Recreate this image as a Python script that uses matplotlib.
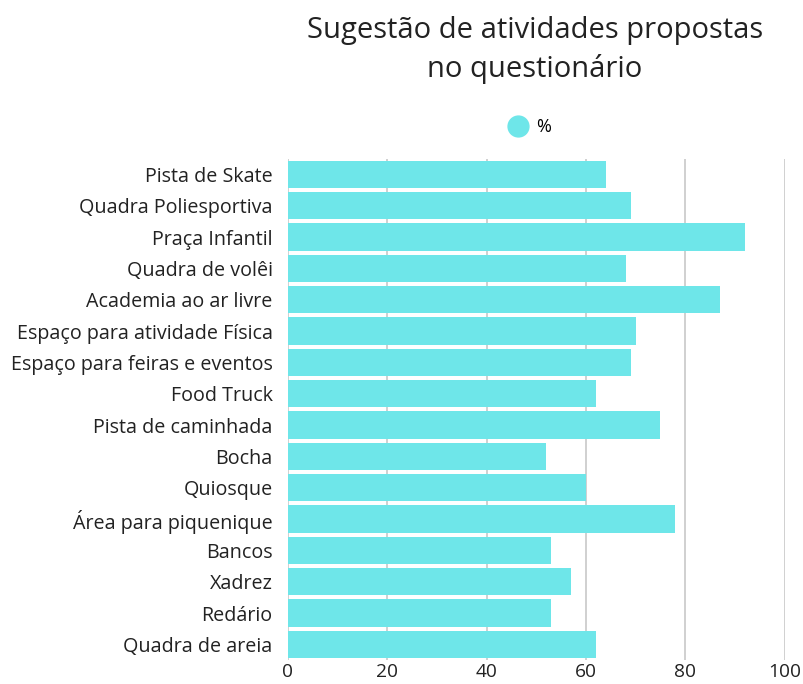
import matplotlib.pyplot as plt
from matplotlib.lines import Line2D

plt.rcParams['font.family'] = ['Open Sans', 'DejaVu Sans']

# Dados
atividades = ['Pista de Skate', 'Quadra Poliesportiva', 'Praça Infantil', 'Quadra de volêi',
              'Academia ao ar livre', 'Espaço para atividade Física', 'Espaço para feiras e eventos',
              'Food Truck', 'Pista de caminhada', 'Bocha', 'Quiosque', 'Área para piquenique',
              'Bancos', 'Xadrez', 'Redário', 'Quadra de areia']
percentuais = [64, 69, 92, 68, 87, 70, 69, 62, 75, 52, 60, 78, 53, 57, 53, 62]
ticks_x = [0, 20, 40, 60, 80, 100]

cor = '#6ee6e9'

fig = plt.figure(figsize=(8.04, 6.84), dpi=100)
ax = fig.add_axes([0.358, 0.035, 0.618, 0.733])

pos = list(range(len(atividades)))
ax.barh(pos, percentuais, height=0.87, color=cor, zorder=2)
ax.set_ylim(len(atividades) - 0.5, -0.5)
ax.set_xlim(0, 100)
ax.set_yticks(pos)
ax.set_yticklabels(atividades, fontsize=14.2, color='#222222')
ax.set_xticks(ticks_x)
ax.set_xticklabels([str(t) for t in ticks_x], fontsize=13.8, color='#222222')
ax.tick_params(axis='x', length=0, pad=2)
ax.tick_params(axis='y', length=0, pad=11)

for s in ax.spines.values():
    s.set_visible(False)
ax.grid(axis='x', color='#d0d0d0', linewidth=1.4, zorder=0)

fig.text(0.665, 0.977, 'Sugestão de atividades propostas\nno questionário',
         ha='center', va='top', fontsize=21, color='#222222', linespacing=1.42)

legenda = [Line2D([0], [0], marker='o', color='none', markerfacecolor=cor,
                  markeredgecolor=cor, markersize=15, label='%')]
fig.legend(handles=legenda, loc='center', bbox_to_anchor=(0.658, 0.814), frameon=False,
           fontsize=13, handletextpad=0.4, handlelength=1.2)

fig.savefig('out.png', dpi=100)
